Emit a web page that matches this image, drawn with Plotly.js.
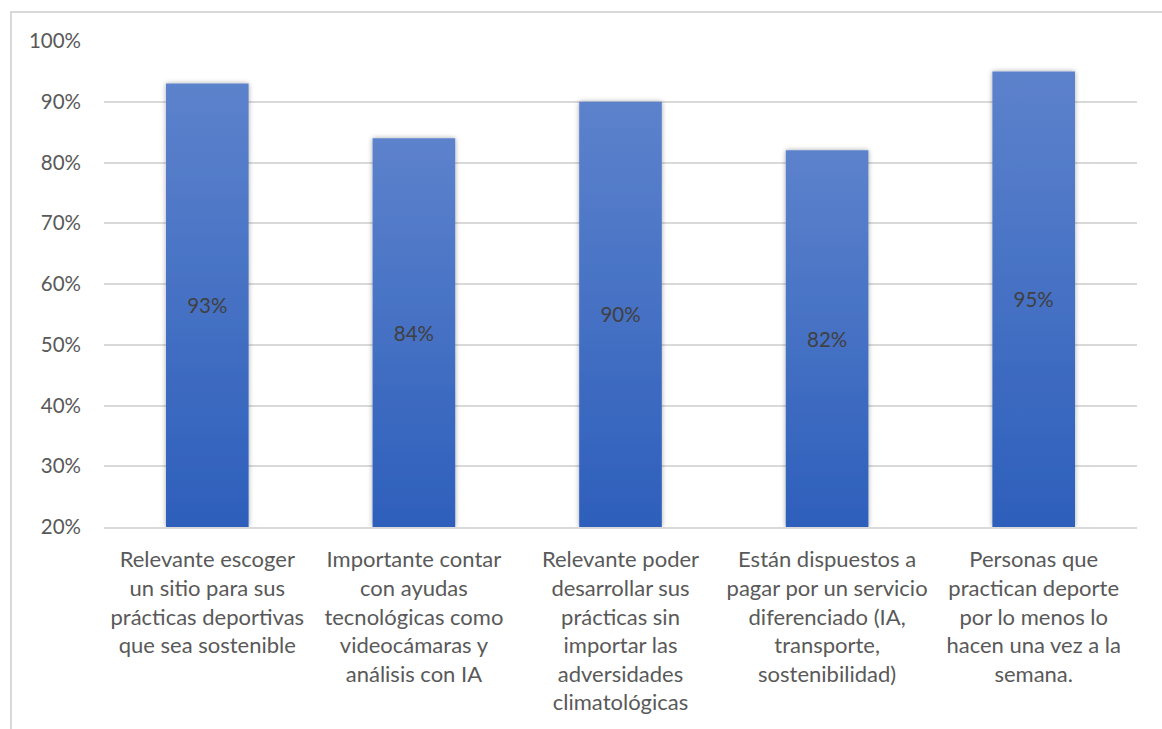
<!DOCTYPE html>
<html>
<head>
<meta charset="utf-8">
<script src="https://cdn.plot.ly/plotly-3.0.1.min.js"></script>
<style>
  html, body { margin: 0; padding: 0; background: #ffffff; overflow: hidden; }
  #frame { position: absolute; left: 10px; top: 11px; width: 1200px; height: 800px; border: 2px solid #d9d9d9; box-sizing: border-box; }
  #chart { position: absolute; left: 0; top: 0; width: 1162px; height: 729px; }
</style>
</head>
<body>
<div id="frame"></div>
<div id="chart"></div>
<script>
// ---- data ----
const categories = [
  "Relevante escoger<br>un sitio para sus<br>prácticas deportivas<br>que sea sostenible",
  "Importante contar<br>con ayudas<br>tecnológicas como<br>videocámaras y<br>análisis con IA",
  "Relevante poder<br>desarrollar sus<br>prácticas sin<br>importar las<br>adversidades<br>climatológicas",
  "Están dispuestos a<br>pagar por un servicio<br>diferenciado (IA,<br>transporte,<br>sostenibilidad)",
  "Personas que<br>practican deporte<br>por lo menos lo<br>hacen una vez a la<br>semana."
];
const values = [93, 84, 90, 82, 95];
const tickValues = [20, 30, 40, 50, 60, 70, 80, 90, 100];
const tickLabels = ["20%", "30%", "40%", "50%", "60%", "70%", "80%", "90%", "100%"];
const axisFloor = 20;

const FONT = "Lato, 'Open Sans', sans-serif";

const trace = {
  type: "bar",
  x: categories,
  y: values.map(v => v - axisFloor),
  base: values.map(() => axisFloor),
  text: values.map(v => v + "%"),
  textposition: "inside",
  insidetextanchor: "middle",
  textangle: 0,
  textfont: { family: FONT, size: 20.5, color: "#404040" },
  marker: { color: "#4472c4", line: { width: 0 } },
  hoverinfo: "none"
};

const layout = {
  width: 1162,
  height: 729,
  margin: { l: 104, r: 25, t: 41, b: 202 },
  paper_bgcolor: "rgba(0,0,0,0)",
  plot_bgcolor: "rgba(0,0,0,0)",
  bargap: 0.6,
  showlegend: false,
  font: { family: FONT, size: 20, color: "#595959" },
  xaxis: {
    type: "category",
    showgrid: false,
    showline: true,
    linecolor: "#d9d9d9",
    linewidth: 2,
    ticks: "",
    tickangle: 0,
    ticklabelstandoff: 12,
    tickfont: { family: FONT, size: 22, color: "#595959" },
    fixedrange: true
  },
  yaxis: {
    range: [20, 100],
    tickvals: tickValues,
    ticktext: tickLabels,
    showgrid: true,
    gridcolor: "#d9d9d9",
    gridwidth: 2,
    zeroline: false,
    showline: false,
    ticks: "",
    ticklabelstandoff: 22,
    tickfont: { family: FONT, size: 20.5, color: "#595959" },
    fixedrange: true
  }
};

Plotly.newPlot("chart", [trace], layout, { staticPlot: true, displayModeBar: false }).then(gd => {
  const svgNS = "http://www.w3.org/2000/svg";
  const svg = gd.querySelector("svg.main-svg");
  const defs = document.createElementNS(svgNS, "defs");
  defs.innerHTML =
    '<linearGradient id="barGrad" x1="0" y1="0" x2="0" y2="1">' +
    '<stop offset="0" stop-color="#5d82cc"/>' +
    '<stop offset="1" stop-color="#2d5fbb"/>' +
    '</linearGradient>' +
    '<filter id="barShadow" x="-20%" y="-5%" width="140%" height="110%">' +
    '<feDropShadow dx="0" dy="0" stdDeviation="2.5" flood-color="#000000" flood-opacity="0.35"/>' +
    '</filter>';
  svg.insertBefore(defs, svg.firstChild);
  gd.querySelectorAll(".barlayer .point path").forEach(p => {
    p.style.fill = "url(#barGrad)";
    p.setAttribute("filter", "url(#barShadow)");
  });
});
</script>
</body>
</html>
